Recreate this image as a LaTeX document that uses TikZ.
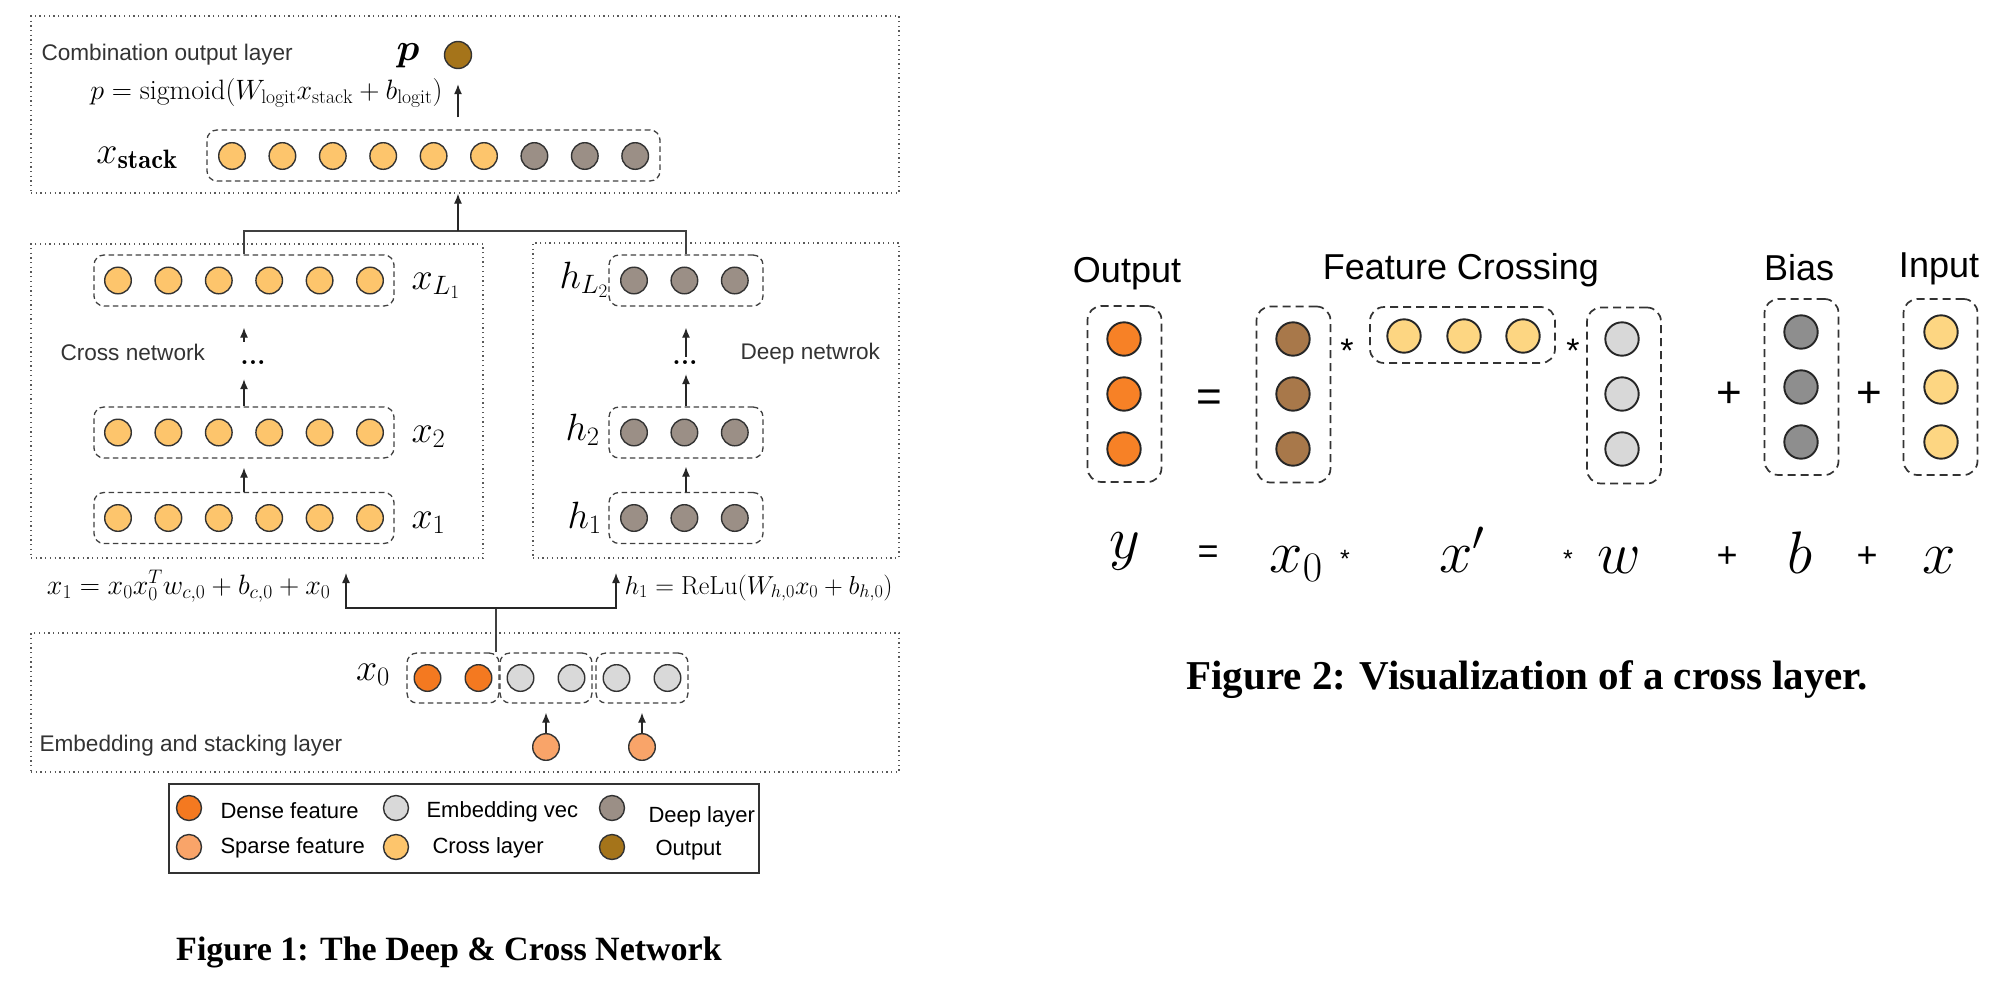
\RequirePackage{fix-cm}
\documentclass[tikz,border=0pt]{standalone}
\usepackage{amsmath}
\usepackage{amssymb}
\usepackage{fontspec}
\setsansfont{Liberation Sans}
\newfontfamily\capfont{Liberation Serif}
\usetikzlibrary{arrows.meta}

\definecolor{crosscol}{RGB}{253,197,108}
\definecolor{deepcol}{RGB}{155,143,134}
\definecolor{densecol}{RGB}{244,121,32}
\definecolor{sparsecol}{RGB}{249,164,105}
\definecolor{embcol}{RGB}{217,217,217}
\definecolor{outcol}{RGB}{165,116,26}
\definecolor{outorange}{RGB}{247,129,38}
\definecolor{browncol}{RGB}{168,120,74}
\definecolor{inputcol}{RGB}{253,214,130}
\definecolor{wcol}{RGB}{216,216,216}
\definecolor{biascol}{RGB}{142,142,142}

\newcommand{\lblfont}{\fontsize{38}{42}\selectfont}
\newcommand{\fmlfont}{\fontsize{28}{32}\selectfont}
\newcommand{\dotfont}{\bfseries\fontsize{27}{30}\selectfont}
\newcommand{\layerfont}{\sffamily\fontsize{22.6}{26}\selectfont}
\newcommand{\legfont}{\sffamily\fontsize{22}{26}\selectfont}
\newcommand{\hdfont}{\sffamily\fontsize{36}{40}\selectfont}
\newcommand{\opfont}{\sffamily\fontsize{44}{48}\selectfont}
\newcommand{\starfont}{\sffamily\fontsize{34}{38}\selectfont}
\newcommand{\smallopfont}{\sffamily\fontsize{36}{40}\selectfont}
\newcommand{\bigmathfont}{\fontsize{60}{66}\selectfont}

\tikzset{
  layerbox/.style={draw=black!65, line width=1.3pt, dash pattern=on 1.3pt off 3.4pt, inner sep=0pt},
  vecbox/.style={draw=black!75, line width=1.3pt, dash pattern=on 5.5pt off 3.5pt, rounded corners=10pt, inner sep=0pt},
  neuron/.style={circle, draw=black!80, line width=1.4pt, minimum size=26.6pt, inner sep=0pt},
  bigvec/.style={draw=black!80, line width=1.7pt, dash pattern=on 8pt off 5pt, rounded corners=14pt, inner sep=0pt},
  bigneuron/.style={circle, draw=black!85, line width=1.9pt, minimum size=33.4pt, inner sep=0pt},
  arr/.style={-{Latex[length=10pt,width=8pt]}, line width=1.3pt, black!85},
  wire/.style={line width=1.3pt, black!75}
}

\begin{document}
\begin{tikzpicture}[x=1pt, y=-1pt]
\useasboundingbox (0,0) rectangle (2012,982);

% ---------------- Figure 1 ----------------
% layer frames
\node[layerbox, minimum width=868, minimum height=177] (outlayer) at (465,104.5) {};
\node[layerbox, minimum width=452, minimum height=314] (crossnet) at (257,401) {};
\node[layerbox, minimum width=366, minimum height=315] (deepnet) at (716,400.5) {};
\node[layerbox, minimum width=868, minimum height=139] (embedlayer) at (465,702.5) {};

\node[anchor=base west, font=\layerfont, text=black!80] (outtxt) at (38,60) {Combination output layer};
\node[anchor=base west, font=\layerfont, text=black!80] (crosstxt) at (57,360) {Cross network};
\node[anchor=base west, font=\layerfont, text=black!80] (deeptxt) at (737,359) {Deep netwrok};
\node[anchor=base west, font=\layerfont, text=black!80] (embedtxt) at (36,751) {Embedding and stacking layer};

% output unit
\node[anchor=base, font=\lblfont] (plab) at (408,60) {$\boldsymbol{p}$};
\node[neuron, fill=outcol, minimum size=27pt] (pout) at (458,55) {};
\node[anchor=base east, font=\fmlfont] (sigfml) at (446,99) {$p=\mathrm{sigmoid}(W_{\mathrm{logit}}x_{\mathrm{stack}}+b_{\mathrm{logit}})$};

% stacked vector
\node[vecbox, minimum width=453, minimum height=51] (xstack) at (433.5,155.5) {};
\node[anchor=base, font=\lblfont] (xstacklab) at (137,163) {$x_{\mathbf{stack}}$};
\foreach \i in {0,...,5}
  \node[neuron, fill=crosscol] (xs-\i) at ({232+50.4*\i},156) {};
\foreach \i in {6,7,8}
  \node[neuron, fill=deepcol] (xs-\i) at ({232+50.4*\i},156) {};

% cross network
\foreach \name/\y/\lab/\ly in {xL1/280.5/{x_{L_1}}/289, x2/432.5/{x_2}/442, x1/518/{x_1}/528} {
  \node[vecbox, minimum width=300, minimum height=51] (\name) at (244,\y) {};
  \foreach \i in {0,...,5}
    \node[neuron, fill=crosscol] (\name-\i) at ({118+50.4*\i},\y) {};
  \node[anchor=base west, font=\lblfont] (\name-lab) at (408,\ly) {$\lab$};
}

% deep network
\foreach \name/\y/\lab/\lx/\ly in {hL2/280.5/{h_{L_2}}/556/288, h2/432.5/{h_2}/562/440, h1/518/{h_1}/564/528} {
  \node[vecbox, minimum width=154, minimum height=51] (\name) at (686,\y) {};
  \foreach \i in {0,1,2}
    \node[neuron, fill=deepcol] (\name-\i) at ({634+50.4*\i},\y) {};
  \node[anchor=base west, font=\lblfont] (\name-lab) at (\lx,\ly) {$\lab$};
}

% dots between layers
\node[font=\dotfont, inner sep=0pt] (cdots) at (253,363) {...};
\node[font=\dotfont, inner sep=0pt] (ddots) at (685,363) {...};

\draw[arr, shorten >=9pt] (x1.north) -- (x2.south);
\draw[arr, shorten >=14pt] (x2.north) -- (x2.north |- cdots.south);
\draw[arr, shorten <=19pt, shorten >=21pt] (xL1.south |- cdots.north) -- (xL1.south);
\draw[arr, shorten >=8pt] (h1.north) -- (h2.south);
\draw[arr, shorten >=9pt] (h2.north) -- (h2.north |- ddots.south);
\draw[arr, shorten <=4pt, shorten >=21pt] (hL2.south |- ddots.north) -- (hL2.south);

% merge into the output layer
\coordinate (merge) at (458,231);
\draw[wire] (xL1.north) |- (merge) -| (hL2.north);
\draw[arr] (merge) -- (merge |- outlayer.south);
\draw[arr, shorten <=12pt, shorten >=15pt] (pout |- xstack.north) -- (pout.south);

% embedding and stacking
\node[anchor=base, font=\lblfont] (x0lab) at (373,680) {$x_0$};
\node[vecbox, minimum width=92, minimum height=50] (x0a) at (453,678) {};
\node[vecbox, minimum width=92, minimum height=50] (x0b) at (546,678) {};
\node[vecbox, minimum width=92, minimum height=50] (x0c) at (642,678) {};
\foreach \bx/\col in {x0a/densecol, x0b/embcol, x0c/embcol} {
  \node[neuron, fill=\col] (\bx-l) at ([xshift=-25.5pt]\bx.center) {};
  \node[neuron, fill=\col] (\bx-r) at ([xshift=25.5pt]\bx.center) {};
}
\node[neuron, fill=sparsecol] (sp1) at (546,747) {};
\node[neuron, fill=sparsecol] (sp2) at (642,747) {};
\draw[arr, shorten >=9pt] (sp1.north) -- (x0b.south);
\draw[arr, shorten >=9pt] (sp2.north) -- (x0c.south);

% split to both networks
\coordinate (split) at (496,608);
\coordinate (crossin) at (346,573);
\coordinate (deepin) at (616,573);
\draw[wire] (split |- x0a.north) -- (split);
\draw[arr] (split) -| (crossin);
\draw[arr] (split) -| (deepin);
\node[anchor=base east, font=\fmlfont] (crossfml) at (334,594) {$x_1=x_0x_0^Tw_{c,0}+b_{c,0}+x_0$};
\node[anchor=base west, font=\fontsize{26}{30}\selectfont] (deepfml) at (621,594) {$h_1=\mathrm{ReLu}(W_{h,0}x_0+b_{h,0})$};

% legend
\node[draw=black!80, line width=1.5pt, minimum width=590, minimum height=89, inner sep=0pt] (legend) at (464,828.5) {};
\foreach \k/\col/\cx/\cy/\tx/\ty/\txt in {
    dense/densecol/189/808/217/818/Dense feature,
    embv/embcol/396/808/423/817/Embedding vec,
    deepl/deepcol/612/808/645/822/Deep layer,
    sparse/sparsecol/189/847/217/853/Sparse feature,
    crossl/crosscol/396/847/429/853/Cross layer,
    outl/outcol/612/847/652/855/Output} {
  \node[neuron, fill=\col, minimum size=25pt] (leg-\k) at (\cx,\cy) {};
  \node[anchor=base west, font=\legfont] (legtxt-\k) at (\tx,\ty) {\txt};
}

\node[anchor=base, font=\capfont\bfseries\fontsize{34}{40}\selectfont] (cap1) at (449,960) {Figure 1: The Deep \& Cross Network};

% ---------------- Figure 2 ----------------
\node[anchor=base, font=\hdfont] (hOut) at (1127,282) {Output};
\node[anchor=base, font=\hdfont] (hCross) at (1461,279) {Feature Crossing};
\node[anchor=base, font=\hdfont] (hBias) at (1799,280) {Bias};
\node[anchor=base, font=\hdfont] (hIn) at (1939,277) {Input};

% column vectors
\foreach \k/\cx/\cy/\bx/\by/\col in {yv/1124/339/1124.5/394/outorange, x0v/1293/339/1293.5/394.5/browncol,
    wv/1622/339/1624/395.5/wcol, bv/1801/332/1801.5/387/biascol, inv/1941/332/1940.5/387/inputcol} {
  \node[bigvec, minimum width=74, minimum height=176] (\k) at (\bx,\by) {};
  \foreach \j in {0,1,2}
    \node[bigneuron, fill=\col] (\k-\j) at (\cx,{\cy+55*\j}) {};
}

% row vector x'
\node[bigvec, minimum width=185, minimum height=56] (xpv) at (1462.5,335) {};
\foreach \j/\cx in {0/1404, 1/1464, 2/1523}
  \node[bigneuron, fill=inputcol] (xpv-\j) at (\cx,336) {};

% operators
\node[anchor=base, font=\opfont] (opeq) at (1209,411) {=};
\node[anchor=base, font=\starfont] (opstar1) at (1347,362) {*};
\node[anchor=base, font=\starfont] (opstar2) at (1573,362) {*};
\node[anchor=base, font=\opfont] (opplus1) at (1729,407) {+};
\node[anchor=base, font=\opfont] (opplus2) at (1869,407) {+};

% symbolic row
\node[anchor=base west, font=\bigmathfont] (sy) at (1106,558) {$y$};
\node[anchor=base, font=\smallopfont] (seq) at (1208,563) {=};
\node[anchor=base west, font=\bigmathfont] (sx0) at (1266,572) {$x_0$};
\node[anchor=base, font=\sffamily\fontsize{25}{28}\selectfont] (sstar1) at (1345,567) {*};
\node[anchor=base west, font=\bigmathfont] (sxp) at (1436,572) {$x'$};
\node[anchor=base, font=\sffamily\fontsize{25}{28}\selectfont] (sstar2) at (1568,567) {*};
\node[anchor=base west, font=\bigmathfont] (sw) at (1594,573) {$w$};
\node[anchor=base, font=\smallopfont] (splus1) at (1727,567) {+};
\node[anchor=base west, font=\bigmathfont] (sb) at (1784,573) {$b$};
\node[anchor=base, font=\smallopfont] (splus2) at (1867,567) {+};
\node[anchor=base west, font=\bigmathfont] (sx) at (1919,573) {$x$};

\node[anchor=base, font=\capfont\bfseries\fontsize{41}{46}\selectfont] (cap2) at (1527,689) {Figure 2: Visualization of a cross layer.};
\end{tikzpicture}
\end{document}
